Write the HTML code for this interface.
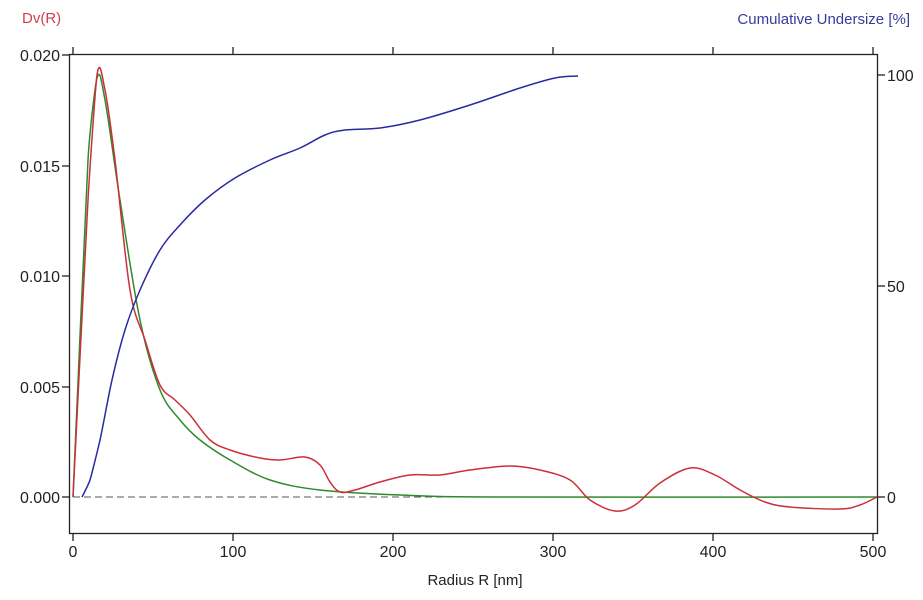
<!DOCTYPE html><html><head><style>body{margin:0;background:#fff}svg{display:block;font-family:"Liberation Sans",sans-serif}</style></head><body>
<svg width="923" height="600" viewBox="0 0 923 600">
<text x="22" y="23" font-size="15" fill="#d04050">Dv(R)</text>
<text x="910" y="24" font-size="15" fill="#3a3a9a" text-anchor="end">Cumulative Undersize [%]</text>
<rect x="69.5" y="54.5" width="808" height="479" fill="none" stroke="#222" stroke-width="1.3"/>
<g stroke="#222" stroke-width="1.3">
<line x1="73" y1="54" x2="73" y2="47"/><line x1="233" y1="54" x2="233" y2="47"/><line x1="393" y1="54" x2="393" y2="47"/><line x1="553" y1="54" x2="553" y2="47"/><line x1="713" y1="54" x2="713" y2="47"/><line x1="873" y1="54" x2="873" y2="47"/>
<line x1="73" y1="534" x2="73" y2="541"/><line x1="233" y1="534" x2="233" y2="541"/><line x1="393" y1="534" x2="393" y2="541"/><line x1="553" y1="534" x2="553" y2="541"/><line x1="713" y1="534" x2="713" y2="541"/><line x1="873" y1="534" x2="873" y2="541"/>
<line x1="62" y1="55" x2="69" y2="55"/><line x1="62" y1="166" x2="69" y2="166"/><line x1="62" y1="276" x2="69" y2="276"/><line x1="62" y1="387" x2="69" y2="387"/><line x1="62" y1="497" x2="69" y2="497"/>
<line x1="878" y1="75" x2="885" y2="75"/><line x1="878" y1="286" x2="885" y2="286"/><line x1="878" y1="497" x2="885" y2="497"/>
</g>
<g font-size="16" fill="#222" text-anchor="end">
<text x="60" y="61">0.020</text><text x="60" y="172">0.015</text><text x="60" y="282">0.010</text><text x="60" y="393">0.005</text><text x="60" y="503">0.000</text>
</g>
<g font-size="16" fill="#222"><text x="887" y="81">100</text><text x="887" y="292">50</text><text x="887" y="503">0</text></g>
<g font-size="16" fill="#222" text-anchor="middle">
<text x="73" y="557">0</text><text x="233" y="557">100</text><text x="393" y="557">200</text><text x="553" y="557">300</text><text x="713" y="557">400</text><text x="873" y="557">500</text>
<text x="475" y="585" font-size="15">Radius R [nm]</text></g>
<line x1="73" y1="497" x2="877" y2="497" stroke="#555" stroke-width="1" stroke-dasharray="7,4"/>
<polyline class="c" fill="none" stroke="#2e8a2e" stroke-width="1.5" stroke-linejoin="round" points="73,497 88,160 97,78 105,100 120,200 140,320 160,390 180,420 200,440 230,460 270,480 320,490 400,495 500,497 877,497"/>
<polyline class="c" fill="none" stroke="#cc2f3a" stroke-width="1.5" stroke-linejoin="round" points="73,497 88,200 97,75 105,90 115,160 130,290 145,340 160,385 175,400 190,415 210,440 230,450 260,458 280,460 305,457 320,465 330,482 340,492 355,490 380,482 410,475 440,475 470,470 510,466 540,470 570,480 590,500 615,511 635,505 660,483 690,468 715,475 740,490 765,502 790,507 840,509 860,505 877,497"/>
<polyline class="c" fill="none" stroke="#2a2aa0" stroke-width="1.5" stroke-linejoin="round" points="82,497 90,480 100,440 112,380 125,330 140,290 160,250 180,225 205,200 235,178 270,160 300,148 325,135 345,130 380,128 420,120 470,105 520,88 555,78 578,76"/>
</svg>
<script>
document.querySelectorAll('polyline.c').forEach(function(pl){
var p=pl.getAttribute('points').trim().split(/\s+/).map(function(s){return s.split(',').map(Number)});
var d='M'+p[0][0]+','+p[0][1];
for(var i=0;i<p.length-1;i++){
var a=p[i-1]||p[i],b=p[i],c=p[i+1],e=p[i+2]||c;
var t=(i<=1)?0.08:1/6;
d+=' C'+(b[0]+(c[0]-a[0])*t)+','+(b[1]+(c[1]-a[1])*t)+' '+(c[0]-(e[0]-b[0])*t)+','+(c[1]-(e[1]-b[1])*t)+' '+c[0]+','+c[1];}
var path=document.createElementNS('http://www.w3.org/2000/svg','path');
path.setAttribute('d',d);path.setAttribute('fill','none');path.setAttribute('stroke',pl.getAttribute('stroke'));path.setAttribute('stroke-width','1.5');
pl.parentNode.replaceChild(path,pl);});
</script>
</body></html>
